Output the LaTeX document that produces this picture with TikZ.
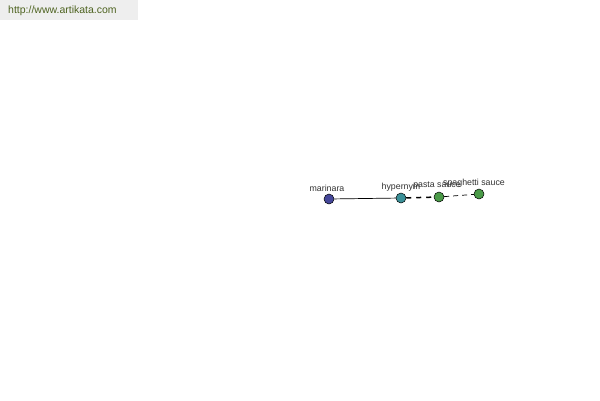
\documentclass[tikz,border=0pt]{standalone}
\usepackage{fontspec}
\setmainfont{Liberation Sans}
\definecolor{wmbg}{HTML}{EEEEEE}
\definecolor{wmtext}{HTML}{4E6320}
\definecolor{cmar}{HTML}{45479A}
\definecolor{chyp}{HTML}{3A9098}
\definecolor{cgreen}{HTML}{4A9A48}
\begin{document}
\begin{tikzpicture}[x=1pt,y=-1pt,
  vtx/.style={circle,draw=black,line width=0.5pt,minimum size=10pt,inner sep=0pt},
  lbl/.style={font=\fontsize{8.8}{10}\selectfont,text=black!80,inner sep=0pt}]
\useasboundingbox (0,0) rectangle (600,400);
\fill[white] (0,0) rectangle (600,400);
\fill[wmbg] (0,0) rectangle (138,20);
\node[font=\fontsize{10.5}{12}\selectfont,text=wmtext,anchor=west,inner sep=0pt] (wm) at (8,11) {http://www.artikata.com};
\node[vtx,fill=cmar] (mar) at (329,199) {};
\node[vtx,fill=chyp] (hyp) at (401,198) {};
\node[vtx,fill=cgreen] (pas) at (439,197) {};
\node[vtx,fill=cgreen] (spa) at (479,194) {};
\node[lbl] (lmar) at (327,188) {marinara};
\node[lbl] (lhyp) at (401,187) {hypernym};
\node[lbl] (lpas) at (437,186) {pasta sauce};
\node[lbl] (lspa) at (474,183) {spaghetti sauce};
\draw[line width=0.7pt] (mar) -- (hyp);
\draw[line width=1.5pt,dash pattern=on 5pt off 5pt] (hyp) -- (pas);
\draw[line width=0.7pt,dash pattern=on 5pt off 4pt] (pas) -- (spa);
\end{tikzpicture}
\end{document}
